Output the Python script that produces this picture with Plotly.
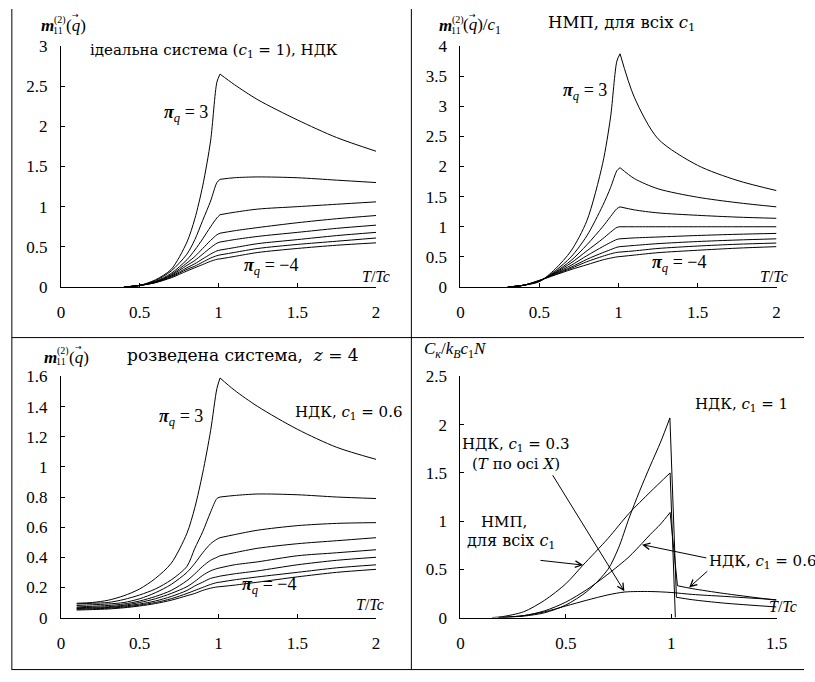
import plotly.graph_objects as go

W, H = 815, 682

# ---------------- data ----------------
pi_labels = [3, 2, 1, 0, -1, -2, -3, -4]

# Panel 1: ideal system (c1 = 1), NDK
T1 = [0.4, 0.5, 0.6, 0.7, 0.8, 0.85, 0.9, 0.95, 0.99, 1.01, 1.1, 1.25, 1.5, 1.75, 2.0]
m1 = [
    [0, 0.02, 0.09, 0.22, 0.56, 0.85, 1.26, 1.82, 2.55, 2.65, 2.52, 2.33, 2.08, 1.86, 1.69],
    [0, 0.02, 0.08, 0.20, 0.41, 0.59, 0.83, 1.07, 1.30, 1.34, 1.36, 1.37, 1.36, 1.33, 1.30],
    [0, 0.02, 0.07, 0.17, 0.34, 0.46, 0.60, 0.75, 0.86, 0.90, 0.93, 0.97, 1.00, 1.03, 1.06],
    [0, 0.02, 0.065, 0.155, 0.30, 0.38, 0.48, 0.58, 0.65, 0.67, 0.70, 0.74, 0.80, 0.85, 0.89],
    [0, 0.02, 0.06, 0.145, 0.27, 0.33, 0.41, 0.49, 0.545, 0.56, 0.59, 0.63, 0.68, 0.73, 0.77],
    [0, 0.02, 0.06, 0.135, 0.24, 0.29, 0.35, 0.41, 0.45, 0.46, 0.49, 0.54, 0.59, 0.64, 0.68],
    [0, 0.02, 0.055, 0.125, 0.22, 0.26, 0.31, 0.36, 0.39, 0.40, 0.43, 0.48, 0.53, 0.57, 0.61],
    [0, 0.02, 0.055, 0.115, 0.20, 0.24, 0.28, 0.32, 0.345, 0.35, 0.38, 0.43, 0.48, 0.52, 0.55],
]

# Panel 2: NMP, all c1
T2 = [0.3, 0.4, 0.5, 0.6, 0.7, 0.8, 0.9, 0.95, 0.99, 1.01, 1.1, 1.25, 1.5, 1.75, 2.0]
m2 = [
    [0, 0.03, 0.09, 0.30, 0.60, 1.10, 2.05, 2.82, 3.75, 3.87, 3.15, 2.46, 2.02, 1.77, 1.60],
    [0, 0.03, 0.095, 0.27, 0.50, 0.85, 1.35, 1.65, 1.93, 1.98, 1.80, 1.63, 1.49, 1.40, 1.33],
    [0, 0.03, 0.10, 0.25, 0.44, 0.70, 1.00, 1.17, 1.30, 1.33, 1.28, 1.23, 1.19, 1.16, 1.14],
    [0, 0.03, 0.10, 0.24, 0.40, 0.60, 0.80, 0.91, 0.99, 1.00, 1.00, 1.00, 1.00, 1.00, 1.00],
    [0, 0.03, 0.105, 0.23, 0.36, 0.52, 0.67, 0.74, 0.79, 0.80, 0.815, 0.83, 0.855, 0.875, 0.89],
    [0, 0.03, 0.105, 0.22, 0.33, 0.46, 0.57, 0.62, 0.66, 0.67, 0.69, 0.72, 0.755, 0.78, 0.80],
    [0, 0.03, 0.11, 0.21, 0.31, 0.42, 0.51, 0.55, 0.575, 0.58, 0.60, 0.64, 0.68, 0.71, 0.73],
    [0, 0.03, 0.11, 0.20, 0.29, 0.37, 0.45, 0.48, 0.50, 0.505, 0.53, 0.57, 0.61, 0.645, 0.67],
]

# Panel 3: diluted system, z = 4, NDK c1 = 0.6
T3 = [0.1, 0.2, 0.3, 0.4, 0.5, 0.6, 0.7, 0.8, 0.85, 0.9, 0.95, 0.99, 1.01, 1.1, 1.25, 1.5, 1.75, 2.0]
m3 = [
    [0.095, 0.10, 0.115, 0.145, 0.19, 0.26, 0.36, 0.56, 0.73, 0.96, 1.24, 1.52, 1.59, 1.51, 1.40, 1.25, 1.13, 1.05],
    [0.09, 0.095, 0.10, 0.12, 0.15, 0.19, 0.25, 0.34, 0.46, 0.57, 0.70, 0.79, 0.80, 0.81, 0.82, 0.815, 0.80, 0.79],
    [0.08, 0.085, 0.09, 0.10, 0.125, 0.165, 0.22, 0.30, 0.36, 0.43, 0.49, 0.52, 0.53, 0.55, 0.58, 0.61, 0.625, 0.63],
    [0.07, 0.075, 0.08, 0.09, 0.11, 0.14, 0.18, 0.245, 0.29, 0.34, 0.38, 0.40, 0.41, 0.43, 0.46, 0.49, 0.51, 0.53],
    [0.065, 0.068, 0.072, 0.082, 0.10, 0.125, 0.16, 0.205, 0.24, 0.28, 0.31, 0.325, 0.33, 0.35, 0.37, 0.41, 0.43, 0.45],
    [0.06, 0.063, 0.067, 0.076, 0.09, 0.11, 0.14, 0.18, 0.21, 0.235, 0.26, 0.27, 0.275, 0.29, 0.31, 0.35, 0.38, 0.40],
    [0.055, 0.058, 0.062, 0.07, 0.083, 0.10, 0.125, 0.16, 0.18, 0.20, 0.22, 0.232, 0.235, 0.25, 0.27, 0.30, 0.33, 0.35],
    [0.05, 0.053, 0.057, 0.065, 0.077, 0.093, 0.115, 0.145, 0.16, 0.18, 0.195, 0.203, 0.205, 0.215, 0.235, 0.27, 0.30, 0.32],
]

# Panel 4: specific heat
T_nmp = [0.15, 0.2, 0.3, 0.4, 0.5, 0.58, 0.7, 0.8, 0.9, 0.995, 1.02]
C_nmp = [0, 0.01, 0.06, 0.18, 0.35, 0.54, 0.82, 1.08, 1.30, 1.50, 0.0]
T_ndk1 = [0.18, 0.3, 0.4, 0.5, 0.6, 0.7, 0.75, 0.8, 0.85, 0.9, 0.95, 0.994, 1.025, 1.1, 1.25, 1.5]
C_ndk1 = [0, 0.015, 0.05, 0.13, 0.27, 0.50, 0.72, 1.03, 1.31, 1.57, 1.82, 2.07, 0.21, 0.185, 0.15, 0.11]
T_ndk06 = [0.18, 0.3, 0.4, 0.5, 0.6, 0.7, 0.8, 0.862, 0.9, 0.95, 0.995, 1.03, 1.1, 1.25, 1.5]
C_ndk06 = [0, 0.02, 0.07, 0.16, 0.29, 0.45, 0.63, 0.77, 0.86, 0.97, 1.09, 0.33, 0.30, 0.25, 0.18]
T_ndk03 = [0.2, 0.3, 0.4, 0.5, 0.6, 0.7, 0.78, 0.9, 1.0, 1.1, 1.25, 1.5]
C_ndk03 = [0, 0.02, 0.06, 0.12, 0.18, 0.235, 0.265, 0.27, 0.26, 0.24, 0.22, 0.185]

x_ticks_2 = [0, 0.5, 1, 1.5, 2]
x_ticks_15 = [0, 0.5, 1, 1.5]
y_ticks_1 = [0, 0.5, 1, 1.5, 2, 2.5, 3]
y_ticks_2 = [0, 0.5, 1, 1.5, 2, 2.5, 3, 3.5, 4]
y_ticks_3 = [0, 0.2, 0.4, 0.6, 0.8, 1, 1.2, 1.4, 1.6]
y_ticks_4 = [0, 0.5, 1, 1.5, 2, 2.5]


def fmt(v):
    return ("%g" % v)


def px(x):
    return x / W


def py(y):
    return 1 - y / H


SERIF = "Liberation Serif, Times New Roman, serif"
TXT = "DejaVu Serif, Liberation Serif, serif"

fig = go.Figure()

panels = [
    dict(n=1, xd=(58, 379), yd=(38, 286), xr=[0, 2], yr=[0, 3], xt=x_ticks_2, yt=y_ticks_1),
    dict(n=2, xd=(465, 787), yd=(38, 286), xr=[0, 2], yr=[0, 4], xt=x_ticks_2, yt=y_ticks_2),
    dict(n=3, xd=(58, 379), yd=(378, 626), xr=[0, 2], yr=[0, 1.6], xt=x_ticks_2, yt=y_ticks_3),
    dict(n=4, xd=(465, 787), yd=(378, 626), xr=[0, 1.5], yr=[0, 2.5], xt=x_ticks_15, yt=y_ticks_4),
]

layout = dict(
    width=W, height=H, margin=dict(l=0, r=0, t=0, b=0),
    paper_bgcolor="white", plot_bgcolor="white", showlegend=False,
    font=dict(family=SERIF, size=16, color="black"),
)
for p in panels:
    n = p["n"]
    sx = "" if n == 1 else str(n)
    layout["xaxis" + sx] = dict(
        domain=[px(p["xd"][0]), px(p["xd"][1])], range=p["xr"], anchor="y" + sx,
        showline=True, linecolor="black", linewidth=1, showgrid=False, zeroline=False,
        ticks="inside", ticklen=4, tickcolor="black", tickvals=p["xt"],
        ticktext=[fmt(v) for v in p["xt"]], ticklabelstandoff=10,
        tickfont=dict(family=SERIF, size=17), fixedrange=True,
    )
    layout["yaxis" + sx] = dict(
        domain=[py(p["yd"][1]), py(p["yd"][0])], range=p["yr"], anchor="x" + sx,
        showline=True, linecolor="black", linewidth=1, showgrid=False, zeroline=False,
        ticks="inside", ticklen=4, tickcolor="black", tickvals=p["yt"],
        ticktext=[fmt(v) for v in p["yt"]], ticklabelstandoff=9,
        tickfont=dict(family=SERIF, size=17), fixedrange=True,
    )

line = dict(color="black", width=1, shape="spline", smoothing=0.8)


def add_curve(T, Y, ax, cuts, name):
    sx = "" if ax == 1 else str(ax)
    bounds = [0] + cuts + [len(T) - 1]
    for a, b in zip(bounds[:-1], bounds[1:]):
        fig.add_trace(go.Scatter(x=T[a:b + 1], y=Y[a:b + 1], mode="lines", line=line,
                                 xaxis="x" + sx, yaxis="y" + sx, name=name,
                                 hoverinfo="skip"))


for series, T, ax in [(m1, T1, 1), (m2, T2, 2), (m3, T3, 3)]:
    kink = T.index(1.01)
    for i, ys in enumerate(series):
        add_curve(T, ys, ax, [kink], "π=%d" % pi_labels[i])

add_curve(T_nmp, C_nmp, 4, [9], "НМП")
add_curve(T_ndk1, C_ndk1, 4, [11, 12], "НДК c1=1")
add_curve(T_ndk06, C_ndk06, 4, [10, 11], "НДК c1=0.6")
add_curve(T_ndk03, C_ndk03, 4, [], "НДК c1=0.3")

ann = []


def txt(x, y, s, size=16, fam=TXT, xa="left", ya="middle"):
    ann.append(dict(x=px(x), y=py(y), xref="paper", yref="paper", text=s, showarrow=False,
                    xanchor=xa, yanchor=ya, align="left", borderpad=0,
                    font=dict(family=fam, size=size, color="black")))


def ctxt(x, y, s, size=16, fam=TXT):
    txt(x, y, s, size, fam, xa="center")


def mlabel(x0, y0, suffix=""):
    txt(x0, y0, "<b><i>m</i></b>", 17, SERIF)
    txt(x0 + 13, y0 - 6, "(2)", 10, SERIF)
    txt(x0 + 12, y0 + 5, "11", 10, SERIF)
    txt(x0 + 25, y0, "(<i>q</i>)" + suffix, 17, SERIF)
    txt(x0 + 31, y0 - 10, "→", 8, "DejaVu Sans, sans-serif")


def pilabel(xc, y0, val):
    ctxt(xc, y0, "<b><i>π</i></b><sub><i>q</i></sub> = " + val, 18, SERIF)


def TTc(xc, y0):
    ctxt(xc, y0, "<i>T</i>/<i>Tc</i>", 16, SERIF)


# Panel 1
mlabel(37, 17)
ctxt(214, 43, "ідеальна система (<i>c</i><sub>1</sub> = 1), НДК", 15)
pilabel(185.5, 107, "3")
pilabel(272.5, 265, "−4")
TTc(379, 275)

# Panel 2
mlabel(442, 17, "/<i>c</i><sub>1</sub>")
ctxt(629, 15, "НМП, для всіх <i>c</i><sub>1</sub>", 16.5)
pilabel(591.5, 85, "3")
pilabel(687.5, 262, "−4")
TTc(784.5, 275)

# Panel 3
mlabel(40, 358)
ctxt(243, 356, "розведена система,  <i>z</i> = 4", 17)
ctxt(351, 415, "НДК, <i>c</i><sub>1</sub> = 0.6", 15)
pilabel(180, 420, "3")
pilabel(270, 593, "−4")
TTc(373, 613)

# Panel 4
txt(427, 351, "<i>C</i><sub><i>к</i></sub>/<i>k</i><sub><i>B</i></sub><i>c</i><sub>1</sub><i>N</i>", 17, SERIF)
ctxt(751, 407, "НДК, <i>c</i><sub>1</sub> = 1", 15)
ctxt(521.5, 448, "НДК, <i>c</i><sub>1</sub> = 0.3", 15)
ctxt(521.5, 468, "(<i>T</i> по осі <i>X</i>)", 15)
ctxt(509, 528, "НМП,", 15)
ctxt(517, 548, "для всіх <i>c</i><sub>1</sub>", 16)
txt(717, 568, "НДК, <i>c</i><sub>1</sub> = 0.6", 15)
txt(778, 615, "<i>T</i>/<i>Tc</i>", 16, SERIF)


def d4(pxv, pyv):
    return (pxv - 465) / 214.67, (626 - pyv) / 99.2


for tail, tip in [((558, 478), (632, 599)), ((545, 567), (590, 572)),
                  ((717, 565), (650, 551)), ((718, 577), (698, 595))]:
    tx, ty = d4(*tail)
    hx, hy = d4(*tip)
    ann.append(dict(x=hx, y=hy, xref="x4", yref="y4", ax=tx, ay=ty, axref="x4", ayref="y4",
                    showarrow=True, arrowhead=5, arrowsize=1.3, arrowwidth=1, arrowcolor="black",
                    text=""))

layout["annotations"] = ann

shapes = []
for (x0, y0, x1, y1) in [(8, 0, 8, 680), (415, 0, 415, 680), (8, 338, 815, 338), (8, 679.5, 815, 679.5)]:
    shapes.append(dict(type="line", xref="paper", yref="paper", x0=px(x0), y0=py(y0),
                       x1=px(x1), y1=py(y1), line=dict(color="black", width=1)))
layout["shapes"] = shapes

fig.update_layout(**layout)
fig.write_html("out.html", config={"displayModeBar": False},
               post_script="document.body.style.margin='0';document.body.style.overflow='hidden';")
